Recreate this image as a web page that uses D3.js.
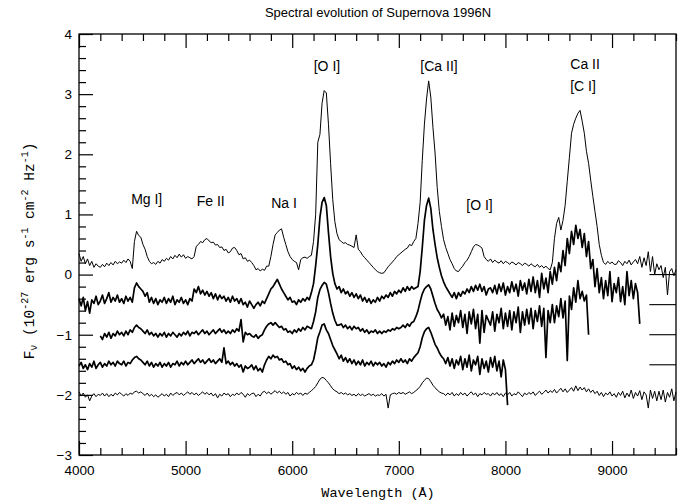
<!DOCTYPE html>
<html>
<head>
<meta charset="utf-8">
<script src="https://cdn.jsdelivr.net/npm/d3@7"></script>
<style>
html,body{margin:0;padding:0;background:#fff;}
svg{display:block;}
</style>
</head>
<body>
<svg id="chart" width="681" height="503"></svg>
<script>
// ---------------- DATA ----------------
const titleText = "Spectral evolution of Supernova 1996N";
const xDomain = [4000, 9600];
const yDomain = [-3, 4];
const xMajorTicks = [4000, 5000, 6000, 7000, 8000, 9000];
const yMajorTicks = [-3, -2, -1, 0, 1, 2, 3, 4];
const sampleStep = 20; // Å between samples

// spectrum 1 (top, offset 0) starts at 4000 Å
const spec1Start = 4000;
const spec1 = [
 0.35,0.22,0.30,0.18,0.26,0.15,0.22,0.12,0.18,0.14,
 0.12,0.17,0.13,0.19,0.15,0.20,0.16,0.22,0.18,0.21,
 0.19,0.24,0.20,0.26,0.22,0.10,0.55,0.72,0.65,0.62,
 0.50,0.42,0.30,0.22,0.18,0.20,0.17,0.22,0.19,0.25,
 0.22,0.27,0.24,0.30,0.26,0.32,0.28,0.34,0.29,0.33,
 0.27,0.30,0.28,0.26,0.30,0.47,0.50,0.55,0.53,0.58,
 0.60,0.56,0.53,0.54,0.49,0.50,0.45,0.46,0.40,0.42,
 0.36,0.38,0.44,0.45,0.40,0.33,0.35,0.26,0.28,0.22,
 0.24,0.20,0.15,0.08,0.10,0.06,0.09,0.07,0.14,0.14,0.30,
 0.50,0.66,0.70,0.74,0.76,0.62,0.50,0.38,0.30,0.25,
 0.22,0.20,0.08,0.25,0.28,0.29,0.27,0.30,0.32,0.55,
 1.00,2.20,2.33,2.85,3.06,3.02,2.50,1.85,1.25,0.88,
 0.68,0.58,0.55,0.52,0.53,0.50,0.49,0.47,0.45,0.66,
 0.42,0.38,0.32,0.28,0.24,0.20,0.16,0.12,0.08,0.05,
 0.03,0.02,0.03,0.08,0.13,0.17,0.21,0.25,0.30,0.33,
 0.36,0.39,0.42,0.44,0.50,0.48,0.55,0.60,0.85,1.20,
 1.90,2.50,2.92,3.22,2.95,2.45,2.02,1.45,1.05,0.80,
 0.58,0.45,0.35,0.25,0.18,0.10,0.06,0.05,0.10,0.14,
 0.20,0.24,0.30,0.38,0.46,0.50,0.49,0.47,0.44,0.30,
 0.25,0.22,0.26,0.20,0.24,0.21,0.19,0.23,0.18,0.22,0.20,
 0.17,0.21,0.19,0.16,0.20,0.18,0.15,0.19,0.17,0.14,
 0.18,0.15,0.13,0.17,0.12,0.15,0.11,0.14,0.10,0.08,
 0.20,0.60,0.85,0.95,0.74,0.90,1.15,1.55,1.95,2.35,
 2.50,2.60,2.68,2.73,2.55,2.35,2.05,1.85,1.57,1.30,
 1.05,0.80,0.50,0.32,0.20,0.17,0.22,0.18,0.21,0.17,
 0.17,0.23,0.20,0.15,0.22,0.18,0.24,0.16,0.21,0.25,
 0.18,0.30,0.12,0.28,0.15,0.38,0.05,0.30,0.00,0.18,
 0.08,0.15,-0.05,0.12,-0.34,0.05,0.10,-0.02,0.08
];

// spectrum 2 (offset -0.5) starts at 4000 Å
const spec2Start = 4000;
const spec2 = [
 -0.40,-0.52,-0.38,-0.60,-0.45,-0.64,-0.42,-0.48,-0.36,-0.50,
 -0.44,-0.34,-0.48,-0.40,-0.30,-0.46,-0.38,-0.44,-0.34,-0.46,
 -0.40,-0.48,-0.36,-0.44,-0.38,-0.46,-0.22,-0.14,-0.20,-0.24,
 -0.28,-0.36,-0.30,-0.46,-0.38,-0.48,-0.40,-0.50,-0.42,-0.46,
 -0.38,-0.48,-0.40,-0.46,-0.36,-0.50,-0.42,-0.46,-0.38,-0.48,
 -0.42,-0.50,-0.40,-0.44,-0.24,-0.30,-0.20,-0.32,-0.26,-0.34,
 -0.28,-0.36,-0.30,-0.40,-0.32,-0.42,-0.34,-0.40,-0.36,-0.44,
 -0.38,-0.46,-0.36,-0.44,-0.40,-0.48,-0.40,-0.50,-0.46,-0.54,
 -0.44,-0.50,-0.56,-0.50,-0.46,-0.52,-0.44,-0.48,-0.40,-0.32,-0.24,
 -0.20,-0.14,-0.08,-0.16,-0.24,-0.30,-0.36,-0.42,-0.38,-0.46,
 -0.44,-0.50,-0.42,-0.46,-0.40,-0.44,-0.38,-0.42,-0.30,-0.15,
 0.15,0.50,0.95,1.20,1.28,1.15,0.70,0.30,0.02,-0.15,
 -0.24,-0.20,-0.30,-0.24,-0.32,-0.28,-0.36,-0.30,-0.38,-0.32,
 -0.40,-0.34,-0.44,-0.38,-0.46,-0.40,-0.48,-0.42,-0.46,-0.38,
 -0.44,-0.36,-0.40,-0.34,-0.38,-0.30,-0.36,-0.28,-0.32,-0.26,
 -0.30,-0.22,-0.28,-0.20,-0.26,-0.20,-0.24,-0.22,-0.20,0.05,
 0.45,0.90,1.15,1.27,1.10,0.75,0.50,0.28,0.12,-0.02,
 -0.12,-0.20,-0.26,-0.32,-0.38,-0.30,-0.40,-0.30,-0.36,-0.28,
 -0.32,-0.24,-0.30,-0.20,-0.28,-0.18,-0.26,-0.16,-0.28,-0.20,
 -0.34,-0.24,-0.22,-0.30,-0.18,-0.32,-0.16,-0.28,-0.14,-0.34,-0.20,
 -0.30,-0.12,-0.28,-0.16,-0.36,-0.10,-0.26,-0.14,-0.32,-0.08,
 -0.28,-0.04,-0.30,-0.10,-0.38,0.02,-0.24,-0.06,-0.30,0.05,
 -0.16,0.12,-0.10,0.20,0.05,0.40,0.15,0.60,0.35,0.72,
 0.50,0.82,0.60,0.75,0.45,0.68,0.30,0.55,0.10,0.25,
 -0.20,0.10,-0.30,-0.05,-0.40,-0.10,-0.35,0.05,-0.45,-0.15,
 -0.30,-0.05,-0.45,-0.20,-0.50,0.05,-0.35,-0.10,-0.40,-0.15,
 -0.30,-0.82
];

// spectrum 3 (offset -1.0) starts at 4200 Å
const spec3Start = 4200;
const spec3 = [
 -1.02,-1.08,-0.98,-1.04,-0.96,-1.06,-0.98,-1.02,-0.94,-1.00,
 -0.96,-1.02,-0.94,-1.00,-0.92,-0.96,-0.88,-0.84,-0.88,-0.90,
 -0.94,-0.98,-0.92,-1.00,-0.96,-1.02,-0.98,-1.04,-0.98,-1.02,
 -0.96,-1.04,-0.98,-1.02,-0.96,-1.00,-1.04,-0.98,-1.02,-0.96,
 -1.00,-0.94,-1.02,-0.96,-0.98,-0.94,-1.00,-0.96,-0.92,-0.98,
 -0.94,-1.00,-0.96,-0.92,-0.98,-0.94,-0.90,-0.96,-0.92,-0.98,
 -0.94,-0.98,-0.92,-0.96,-0.90,-0.94,-0.75,-1.12,-0.96,-1.00,
 -0.98,-1.02,-1.04,-1.00,-1.06,-1.02,-1.00,-0.92,-0.86,-0.82,-0.80,
 -0.84,-0.80,-0.84,-0.88,-0.86,-0.92,-0.90,-0.96,-0.94,-0.98,
 -0.92,-0.96,-0.90,-0.94,-0.88,-0.92,-0.86,-0.88,-0.90,-0.78,
 -0.62,-0.38,-0.25,-0.18,-0.13,-0.16,-0.30,-0.48,-0.64,-0.76,
 -0.84,-0.84,-0.82,-0.88,-0.84,-0.90,-0.86,-0.92,-0.86,-0.90,
 -0.88,-0.94,-0.90,-0.96,-0.92,-0.98,-0.94,-0.96,-0.92,-0.98,
 -0.94,-0.98,-0.94,-0.96,-0.92,-0.94,-0.90,-0.92,-0.88,-0.90,
 -0.88,-0.84,-0.88,-0.82,-0.86,-0.80,-0.78,-0.70,-0.60,-0.45,
 -0.32,-0.24,-0.20,-0.17,-0.24,-0.36,-0.48,-0.58,-0.64,-0.72,
 -0.66,-0.84,-0.70,-0.92,-0.64,-0.86,-0.68,-0.80,-0.60,-0.88,
 -0.66,-0.98,-0.62,-0.82,-0.58,-0.90,-0.66,-1.14,-0.60,-0.96,
 -0.68,-0.76,-0.84,-0.62,-0.94,-0.66,-0.80,-0.56,-0.90,-0.64,-0.86,
 -0.60,-0.92,-0.62,-0.80,-0.54,-0.96,-0.62,-0.84,-0.58,-0.82,
 -0.56,-0.90,-0.60,-0.78,-0.52,-0.86,-0.56,-1.38,-0.60,-0.80,
 -0.50,-0.80,-0.52,-0.70,-0.40,-0.72,-0.44,-1.43,-0.36,-0.58,
 -0.22,-0.46,-0.10,-0.40,-0.28,-0.44,-0.34,-1.00
];

// spectrum 4 (offset -1.5) starts at 4000 Å
const spec4Start = 4000;
const spec4 = [
 -1.52,-1.46,-1.56,-1.50,-1.58,-1.48,-1.54,-1.44,-1.56,-1.50,
 -1.46,-1.54,-1.48,-1.52,-1.44,-1.50,-1.46,-1.52,-1.44,-1.48,
 -1.50,-1.44,-1.52,-1.46,-1.48,-1.42,-1.38,-1.36,-1.40,-1.42,
 -1.46,-1.50,-1.44,-1.52,-1.46,-1.54,-1.48,-1.52,-1.46,-1.54,
 -1.48,-1.52,-1.46,-1.54,-1.48,-1.50,-1.44,-1.52,-1.46,-1.50,
 -1.44,-1.50,-1.46,-1.42,-1.48,-1.44,-1.40,-1.46,-1.42,-1.48,
 -1.44,-1.40,-1.46,-1.42,-1.48,-1.44,-1.40,-1.46,-1.22,-1.48,
 -1.44,-1.50,-1.46,-1.52,-1.48,-1.54,-1.50,-1.62,-1.52,-1.56,
 -1.54,-1.50,-1.58,-1.52,-1.60,-1.56,-1.62,-1.50,-1.42,-1.36,-1.40,
 -1.34,-1.38,-1.36,-1.42,-1.40,-1.46,-1.44,-1.50,-1.48,-1.56,
 -1.52,-1.58,-1.54,-1.60,-1.56,-1.62,-1.56,-1.52,-1.50,-1.42,
 -1.25,-1.05,-0.95,-0.84,-0.82,-0.92,-0.98,-1.08,-1.18,-1.25,
 -1.32,-1.40,-1.34,-1.44,-1.38,-1.46,-1.40,-1.48,-1.42,-1.50,
 -1.44,-1.50,-1.42,-1.52,-1.46,-1.50,-1.44,-1.52,-1.46,-1.50,
 -1.46,-1.52,-1.48,-1.54,-1.46,-1.50,-1.44,-1.48,-1.42,-1.46,
 -1.40,-1.46,-1.42,-1.48,-1.40,-1.44,-1.38,-1.34,-1.30,-1.20,
 -1.05,-0.95,-0.90,-0.88,-0.96,-1.06,-1.16,-1.22,-1.30,-1.36,
 -1.40,-1.48,-1.38,-1.52,-1.40,-1.56,-1.42,-1.50,-1.36,-1.58,
 -1.40,-1.54,-1.34,-1.60,-1.42,-1.50,-1.36,-1.66,-1.40,-1.56,
 -1.44,-1.62,-1.38,-1.54,-1.36,-1.60,-1.44,-1.70,-1.42,-1.58,
 -2.17
];

// spectrum 5 (bottom, offset -2.0) starts at 4000 Å
const spec5Start = 4000;
const spec5 = [
 -1.95,-2.02,-1.97,-2.04,-2.00,-2.10,-2.02,-1.98,-2.03,-1.99,
 -2.01,-1.97,-2.02,-1.98,-2.03,-1.99,-2.02,-1.97,-2.00,-1.96,
 -1.99,-2.02,-1.98,-2.01,-1.97,-1.99,-1.95,-1.94,-1.97,-1.95,
 -1.98,-2.01,-1.97,-2.02,-1.99,-2.03,-2.00,-2.04,-2.01,-1.98,
 -2.02,-1.99,-2.03,-1.97,-2.01,-1.98,-1.96,-2.00,-1.97,-2.01,
 -1.98,-1.95,-1.99,-1.96,-2.00,-1.97,-2.01,-1.98,-1.95,-1.99,
 -1.96,-2.00,-1.97,-2.02,-1.98,-2.05,-1.99,-2.02,-1.97,-2.00,
 -1.98,-2.03,-1.99,-2.01,-1.97,-2.00,-1.96,-1.99,-2.04,-1.98,
 -2.01,-1.98,-1.97,-2.03,-1.99,-2.02,-1.96,-1.94,-1.98,-1.95,-1.99,
 -1.96,-1.93,-1.97,-1.94,-1.98,-1.95,-1.99,-1.96,-2.02,-1.98,
 -2.00,-1.96,-1.99,-1.97,-2.01,-1.97,-1.99,-1.96,-1.93,-1.90,
 -1.86,-1.80,-1.74,-1.71,-1.72,-1.76,-1.80,-1.85,-1.90,-1.93,
 -1.95,-1.98,-1.96,-1.99,-1.97,-2.00,-1.98,-2.01,-1.99,-2.02,
 -1.98,-2.01,-1.99,-2.02,-2.00,-1.98,-2.01,-1.99,-2.02,-2.00,
 -2.01,-1.98,-2.02,-1.99,-2.22,-2.00,-1.98,-1.97,-1.99,-1.96,
 -1.98,-1.96,-1.99,-1.97,-1.95,-1.98,-1.96,-1.93,-1.90,-1.86,
 -1.80,-1.76,-1.72,-1.73,-1.78,-1.84,-1.88,-1.92,-1.95,-1.97,
 -1.98,-2.01,-1.97,-2.00,-1.96,-2.02,-1.98,-2.01,-1.96,-2.00,
 -1.97,-2.02,-1.98,-1.95,-2.00,-1.97,-2.03,-1.98,-2.00,-1.96,
 -1.99,-1.98,-2.02,-1.97,-2.00,-1.96,-2.01,-1.98,-2.03,-1.97,-2.00,
 -1.96,-2.02,-1.98,-2.00,-1.95,-1.99,-2.03,-1.97,-2.00,-1.96,
 -1.99,-1.95,-2.01,-1.97,-1.94,-1.99,-1.96,-1.92,-1.97,-1.93,
 -1.96,-1.91,-1.97,-1.93,-1.89,-1.95,-1.90,-1.96,-1.92,-1.88,
 -1.94,-1.85,-1.93,-1.87,-1.92,-1.88,-1.95,-1.90,-1.96,-1.92,
 -1.98,-1.94,-2.01,-1.96,-2.03,-1.97,-2.00,-1.95,-2.02,-1.98,
 -2.04,-1.96,-2.01,-1.94,-2.05,-1.97,-2.03,-1.92,-2.06,-1.96,
 -2.02,-1.93,-2.08,-1.95,-2.00,-2.22,-1.92,-2.06,-1.94,-2.10,
 -1.94,-2.08,-1.92,-2.12,-1.96,-2.04,-1.90,-2.10,-1.95
];

// zero-level markers drawn at the right edge
const markerLevels = [0, -0.5, -1, -1.5];
const markerRange = [9350, 9600];

// line identifications
const lineLabels = ["Mg I]", "Fe II", "Na I", "[O I]", "[Ca II]", "Ca II", "[C I]", "[O I]"];
const lineLabelWave = [4635, 5236, 5923, 6326, 7377, 8747, 8728, 7757];
const lineLabelFlux = [1.17, 1.14, 1.11, 3.39, 3.39, 3.42, 3.05, 1.07];

// ---------------- DRAW ----------------
const svg = d3.select("#chart");
const x = d3.scaleLinear().domain(xDomain).range([79, 676]);
const y = d3.scaleLinear().domain(yDomain).range([455, 34]);

const sans = "'Liberation Sans', Arial, Helvetica, sans-serif";
const mono = "'Liberation Mono', 'DejaVu Sans Mono', monospace";

// title
svg.append("text")
  .attr("x", 378).attr("y", 17)
  .attr("text-anchor", "middle")
  .style("font-family", sans).style("font-size", "13px")
  .text(titleText);

// minor ticks
const xMinor = d3.range(xDomain[0], xDomain[1] + 1, 200).filter(v => v % 1000 !== 0);
const yMinor = d3.range(-30, 41, 2).map(v => v / 10).filter(v => Math.abs(v - Math.round(v)) > 1e-6);

function styleAxis(g) {
  g.select(".domain").remove();
  g.selectAll(".tick line").attr("stroke", "#000").attr("stroke-width", 1.2);
  g.selectAll(".tick text").style("font-family", sans).style("font-size", "13.5px").attr("fill", "#000");
}

// bottom
svg.append("g").attr("transform", `translate(0,${y(-3)})`)
  .call(d3.axisBottom(x).tickValues(xMajorTicks).tickSize(-14).tickPadding(10).tickFormat(d3.format("d")))
  .call(styleAxis);
svg.append("g").attr("transform", `translate(0,${y(-3)})`)
  .call(d3.axisBottom(x).tickValues(xMinor).tickSize(-7).tickFormat(""))
  .call(styleAxis);
// top
svg.append("g").attr("transform", `translate(0,${y(4)})`)
  .call(d3.axisTop(x).tickValues(xMajorTicks).tickSize(-14).tickFormat(""))
  .call(styleAxis);
svg.append("g").attr("transform", `translate(0,${y(4)})`)
  .call(d3.axisTop(x).tickValues(xMinor).tickSize(-7).tickFormat(""))
  .call(styleAxis);
// left
svg.append("g").attr("transform", `translate(${x(4000)},0)`)
  .call(d3.axisLeft(y).tickValues(yMajorTicks).tickSize(-14).tickPadding(7).tickFormat(d3.format("d")))
  .call(styleAxis);
svg.append("g").attr("transform", `translate(${x(4000)},0)`)
  .call(d3.axisLeft(y).tickValues(yMinor).tickSize(-7).tickFormat(""))
  .call(styleAxis);

// frame
svg.append("rect")
  .attr("x", x(xDomain[0])).attr("y", y(yDomain[1]))
  .attr("width", x(xDomain[1]) - x(xDomain[0]))
  .attr("height", y(yDomain[0]) - y(yDomain[1]))
  .attr("fill", "none").attr("stroke", "#000").attr("stroke-width", 1.3);

// spectra
const line = d3.line().x(d => x(d[0])).y(d => y(d[1]));
const spectra = [
  {start: spec1Start, vals: spec1, w: 1.0},
  {start: spec2Start, vals: spec2, w: 1.7},
  {start: spec3Start, vals: spec3, w: 1.7},
  {start: spec4Start, vals: spec4, w: 1.7},
  {start: spec5Start, vals: spec5, w: 1.0}
];
spectra.forEach(s => {
  const pts = s.vals.map((v, i) => [s.start + i * sampleStep, v]);
  svg.append("path").datum(pts)
    .attr("d", line).attr("fill", "none")
    .attr("stroke", "#000").attr("stroke-width", s.w)
    .attr("stroke-linejoin", "round");
});

// zero-level markers
svg.append("g").selectAll("line").data(markerLevels).join("line")
  .attr("x1", x(markerRange[0])).attr("x2", x(markerRange[1]))
  .attr("y1", d => y(d)).attr("y2", d => y(d))
  .attr("stroke", "#000").attr("stroke-width", 1.1);

// line identifications
svg.append("g").selectAll("text").data(lineLabels).join("text")
  .attr("x", (d, i) => x(lineLabelWave[i]))
  .attr("y", (d, i) => y(lineLabelFlux[i]))
  .attr("text-anchor", "middle")
  .style("font-family", sans).style("font-size", "14px")
  .text(d => d);

// x axis title
svg.append("text")
  .attr("x", 378).attr("y", 497)
  .attr("text-anchor", "middle")
  .style("font-family", mono).style("font-size", "13.5px")
  .text("Wavelength (Å)");

// y axis title with sub/superscripts
const yt = svg.append("text")
  .attr("transform", "translate(34,251) rotate(-90)")
  .attr("text-anchor", "middle")
  .style("font-family", mono).style("font-size", "14.5px");
const parts = [
  ["F", 0], ["ν", 1], [" (10", 0], ["-27", 2], [" erg s", 0], ["-1", 2],
  [" cm", 0], ["-2", 2], [" Hz", 0], ["-1", 2], [")", 0]
];
let cur = 0;
parts.forEach(([t, kind]) => {
  const target = kind === 1 ? 3 : kind === 2 ? -6 : 0;
  yt.append("tspan")
    .attr("dy", target - cur)
    .style("font-size", kind ? "10px" : "14.5px")
    .text(t);
  cur = target;
});
</script>
</body>
</html>
